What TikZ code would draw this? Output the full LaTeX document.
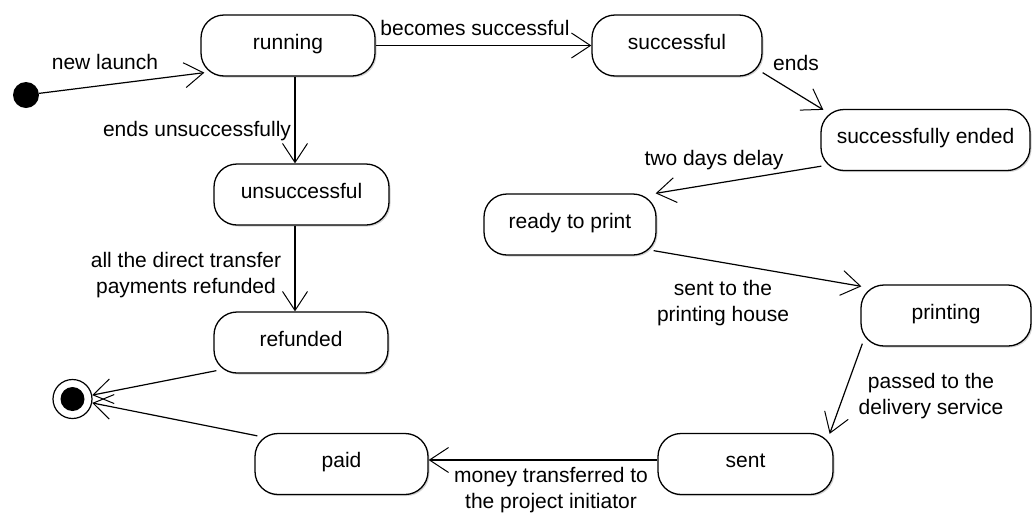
\documentclass[tikz,border=0pt]{standalone}
\usepackage{fontspec}
\setmainfont{Liberation Sans}
\usetikzlibrary{arrows.meta,shadows}

\begin{document}
\begin{tikzpicture}[x=1pt,y=-1pt,
  every node/.style={font=\fontsize{21}{26}\selectfont},
  state/.style={draw, line width=1.3pt, rounded corners=23pt, minimum height=61pt,
    inner sep=0pt, fill=white, text height=12pt, text depth=5pt,
    drop shadow={shadow xshift=1.5pt, shadow yshift=-1.5pt, opacity=0.35}},
  lbl/.style={anchor=base, inner sep=0pt, align=center},
  trans/.style={line width=1.2pt, -{Straight Barb[length=19pt,width=25pt,line width=1pt]}},
]
\useasboundingbox (0,0) rectangle (1032,512);

% pseudo states
\node[circle, fill=black, minimum size=26pt, inner sep=0pt] (init) at (26,95) {};
\node[circle, draw, line width=1.2pt, fill=white, minimum size=39pt, inner sep=0pt] (final) at (72.5,399) {};
\node[circle, fill=black, minimum size=24pt, inner sep=0pt] (finalDot) at (final.center) {};

% states
\node[state, minimum width=174pt] (running)      at (288,45.5)   {running};
\node[state, minimum width=170pt] (successful)   at (677,45.5)   {successful};
\node[state, minimum width=209pt] (ended)        at (925.5,140)  {successfully ended};
\node[state, minimum width=175pt] (unsuccessful) at (301.5,194.5){unsuccessful};
\node[state, minimum width=174pt] (refunded)     at (301,342.5)  {refunded};
\node[state, minimum width=172pt] (ready)        at (570,224.5)  {ready to print};
\node[state, minimum width=170pt] (printing)     at (946,315.5)  {printing};
\node[state, minimum width=175pt] (sent)         at (745.5,464)  {sent};
\node[state, minimum width=173pt] (paid)         at (341.5,464)  {paid};

% transitions
\draw[trans] (init) -- ([shift={(4,-4)}]running.south west);
\draw[trans] (running.east) -- (successful.west);
\draw[trans] ([shift={(0,-4)}]successful.south east) -- ([shift={(3,1)}]ended.north west);
\draw[trans] ([shift={(1,-5)}]ended.south west) -- ([shift={(-1,0)}]ready.north east);
\draw[trans] ([shift={(-3,-5)}]ready.south east) -- ([shift={(1,2)}]printing.north west);
\draw[trans] ([shift={(2,-3)}]printing.south west) -- ([shift={(-4,1)}]sent.north east);
\draw[trans] ([shift={(0,-4)}]sent.west) -- ([shift={(0,-4)}]paid.east);
\draw[trans] ([shift={(7,0)}]running.south) -- ([shift={(-6.5,0)}]unsuccessful.north);
\draw[trans] ([shift={(-6.5,0)}]unsuccessful.south) -- ([shift={(-6,0)}]refunded.north);
\draw[trans] ([shift={(3,-3)}]refunded.south west) -- (final);
\draw[trans] ([shift={(3,3)}]paid.north west) -- (final);

% transition labels (base = baseline of the last line)
\node[lbl] (tNew)        at (105,69)  {new launch};
\node[lbl] (tBecomes)    at (475,35)  {becomes successful};
\node[lbl] (tEnds)       at (796,70)  {ends};
\node[lbl] (tDelay)      at (714,165) {two days delay};
\node[lbl] (tPrintHouse) at (723,321) {sent to the\\printing house};
\node[lbl] (tDelivery)   at (931,414) {passed to the\\delivery service};
\node[lbl] (tMoney)      at (551,508) {money transferred to\\the project initiator};
\node[lbl] (tUnsucc)     at (197,136) {ends unsuccessfully};
\node[lbl] (tRefund)     at (186,293) {all the direct transfer\\payments refunded};
\end{tikzpicture}
\end{document}
